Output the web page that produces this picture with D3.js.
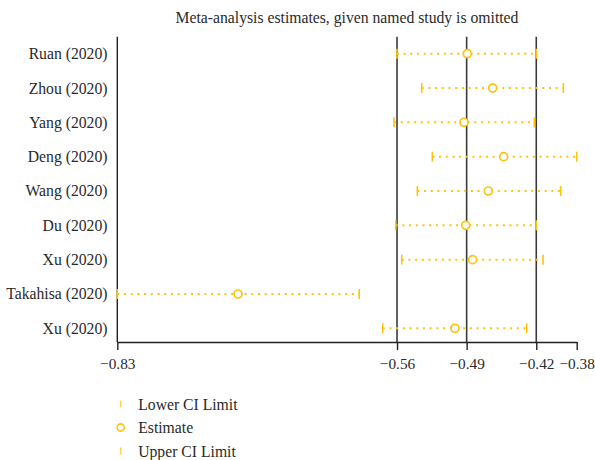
<!DOCTYPE html>
<html>
<head>
<meta charset="utf-8">
<script src="https://cdn.jsdelivr.net/npm/d3@7"></script>
<style>
  html, body { margin: 0; padding: 0; background: #fff; }
  svg text { font-family: "Liberation Serif", "DejaVu Serif", serif; fill: #2a2a2a; }
</style>
</head>
<body>
<svg id="chart" width="595" height="460"></svg>
<script>
// ---- data ----
const studies   = ["Ruan (2020)", "Zhou (2020)", "Yang (2020)", "Deng (2020)", "Wang (2020)",
                   "Du (2020)", "Xu (2020)", "Takahisa (2020)", "Xu (2020)"];
const lowerCI   = [-0.5561, -0.5318, -0.5590, -0.5214, -0.5361, -0.5573, -0.5514, -0.8300, -0.5700];
const estimate  = [-0.4872, -0.4623, -0.4904, -0.4515, -0.4666, -0.4887, -0.4819, -0.7118, -0.4992];
const upperCI   = [-0.4196, -0.3931, -0.4215, -0.3800, -0.3957, -0.4196, -0.4130, -0.5930, -0.4290];
const overall   = [-0.5560, -0.4878, -0.4196];   // combined lower, estimate, upper
const tickValues = [-0.8300, -0.5560, -0.4878, -0.4196, -0.3800];
const tickLabels = ["\u22120.83", "\u22120.56", "\u22120.49", "\u22120.42", "\u22120.38"];
const title = "Meta-analysis estimates, given named study is omitted";
const legendLabels = ["Lower CI Limit", "Estimate", "Upper CI Limit"];

// ---- layout ----
const svg = d3.select("#chart");
const yellow = "#FFC20E";
const fs = 15.7;
const plotLeft = 117.3, plotRight = 576.7, plotTop = 36.7, axisY = 342;

const x = d3.scaleLinear().domain([-0.83, -0.38]).range([plotLeft, plotRight]);
const y = d3.scalePoint().domain(d3.range(studies.length)).range([53.7, 328.3]);

// title
svg.append("text")
  .attr("x", (plotLeft + plotRight) / 2).attr("y", 23)
  .attr("text-anchor", "middle").attr("font-size", fs)
  .text(title);

// reference vertical lines
svg.append("g").selectAll("line").data(overall).join("line")
  .attr("x1", d => x(d)).attr("x2", d => x(d))
  .attr("y1", plotTop).attr("y2", axisY)
  .attr("stroke", "#3a3a3a").attr("stroke-width", 1.6);

// left axis line
svg.append("line")
  .attr("x1", plotLeft).attr("x2", plotLeft).attr("y1", plotTop).attr("y2", axisY)
  .attr("stroke", "#222").attr("stroke-width", 1.4);

// x axis
const xAxis = d3.axisBottom(x)
  .tickValues(tickValues)
  .tickFormat((d, i) => tickLabels[i])
  .tickSize(8).tickSizeOuter(0).tickPadding(8);
const gx = svg.append("g").attr("transform", `translate(0,${axisY})`).call(xAxis);
gx.select(".domain").attr("stroke", "#222").attr("stroke-width", 1.4);
gx.selectAll(".tick line").attr("stroke", "#222").attr("stroke-width", 1.4);
gx.selectAll(".tick text").attr("font-size", 15.3)
  .attr("font-family", "Liberation Serif, DejaVu Serif, serif").attr("fill", "#2a2a2a");

// study labels
svg.append("g").selectAll("text").data(studies).join("text")
  .attr("x", 107.5).attr("y", (d, i) => y(i))
  .attr("dy", "0.35em").attr("text-anchor", "end").attr("font-size", fs)
  .text(d => d);

// CI rows
const rows = svg.append("g").selectAll("g").data(studies.map((s, i) => i)).join("g");
rows.append("line")
  .attr("x1", i => x(lowerCI[i])).attr("x2", i => x(upperCI[i]))
  .attr("y1", i => y(i)).attr("y2", i => y(i))
  .attr("stroke", yellow).attr("stroke-width", 2)
  .attr("stroke-dasharray", "2,4.7");
rows.append("line")
  .attr("x1", i => x(lowerCI[i])).attr("x2", i => x(lowerCI[i]))
  .attr("y1", i => y(i) - 5).attr("y2", i => y(i) + 5)
  .attr("stroke", yellow).attr("stroke-width", 1.6);
rows.append("line")
  .attr("x1", i => x(upperCI[i])).attr("x2", i => x(upperCI[i]))
  .attr("y1", i => y(i) - 5).attr("y2", i => y(i) + 5)
  .attr("stroke", yellow).attr("stroke-width", 1.6);
rows.append("circle")
  .attr("cx", i => x(estimate[i])).attr("cy", i => y(i)).attr("r", 4)
  .attr("fill", "#fff").attr("stroke", yellow).attr("stroke-width", 1.7);

// legend
const lg = svg.append("g").selectAll("g").data(legendLabels).join("g")
  .attr("transform", (d, i) => `translate(120.7,${404 + i * 23.5})`);
lg.each(function(d, i) {
  const g = d3.select(this);
  if (i === 1) {
    g.append("circle").attr("r", 3.6).attr("fill", "#fff")
      .attr("stroke", yellow).attr("stroke-width", 1.6);
  } else {
    g.append("line").attr("y1", -3.5).attr("y2", 3.5)
      .attr("stroke", "#FFD050").attr("stroke-width", 1.6);
  }
  g.append("text").attr("x", 17.5).attr("dy", "0.35em")
    .attr("font-size", fs).text(d);
});
</script>
</body>
</html>
